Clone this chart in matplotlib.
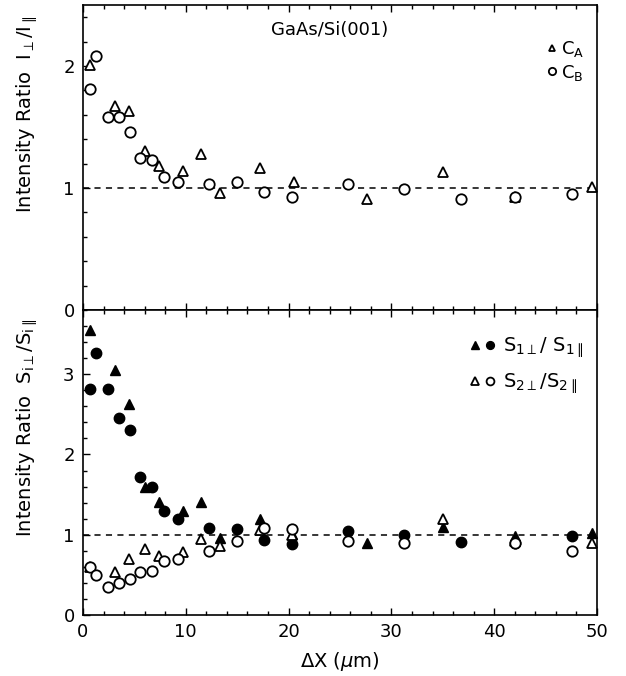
"""Intensity ratio vs. distance for GaAs/Si(001): two stacked panels."""

import matplotlib
matplotlib.use('Agg')
import matplotlib.pyplot as plt
from matplotlib.ticker import MultipleLocator
from matplotlib.legend_handler import HandlerTuple

plt.rcParams['font.family'] = ['DejaVu Sans']
plt.rcParams['mathtext.fontset'] = 'dejavusans'

# --- top panel: C_A (triangles), C_B (circles)
xA = [0.7, 3.1, 4.5, 6.0, 7.4, 9.7, 11.5, 13.3, 17.2, 20.5, 27.6, 35.0, 42.0, 49.5]
cA = [2.01, 1.67, 1.63, 1.30, 1.18, 1.14, 1.28, 0.96, 1.16, 1.05, 0.91, 1.13, 0.93, 1.01]
xB = [0.7, 1.26, 2.4, 3.5, 4.6, 5.55, 6.7, 7.9, 9.2, 12.3, 14.95, 17.6, 20.3,
      25.8, 31.2, 36.8, 42.0, 47.6]
cB = [1.81, 2.08, 1.58, 1.58, 1.46, 1.25, 1.23, 1.09, 1.05, 1.03, 1.05, 0.97, 0.93,
      1.03, 0.99, 0.91, 0.93, 0.95]

# --- bottom panel: S1 (filled), S2 (open)
xS1t = [0.7, 3.1, 4.5, 6.0, 7.4, 9.7, 11.5, 13.3, 17.2, 20.3, 27.6, 35.0, 42.0, 49.5]
s1t = [3.55, 3.05, 2.63, 1.59, 1.41, 1.29, 1.41, 0.96, 1.19, 1.01, 0.90, 1.10, 0.99, 1.02]
xS1c = [0.7, 1.26, 2.4, 3.5, 4.6, 5.55, 6.7, 7.9, 9.2, 12.3, 14.95, 17.6, 20.3,
        25.8, 31.2, 36.8, 42.0, 47.6]
s1c = [2.81, 3.26, 2.81, 2.45, 2.30, 1.72, 1.60, 1.30, 1.19, 1.08, 1.07, 0.93, 0.89,
       1.05, 1.00, 0.91, 0.90, 0.98]
xS2t = [0.7, 3.1, 4.5, 6.0, 7.4, 9.7, 11.5, 13.3, 17.2, 20.3, 35.0, 42.0, 49.5]
s2t = [0.60, 0.54, 0.70, 0.82, 0.74, 0.79, 0.95, 0.86, 1.06, 1.00, 1.19, 0.92, 0.90]
xS2c = [0.7, 1.26, 2.4, 3.5, 4.6, 5.55, 6.7, 7.9, 9.2, 12.3, 14.95, 17.6, 20.3,
        25.8, 31.2, 42.0, 47.6]
s2c = [0.60, 0.50, 0.35, 0.40, 0.45, 0.53, 0.55, 0.67, 0.70, 0.80, 0.92, 1.08, 1.07,
       0.92, 0.90, 0.90, 0.80]

W, H = 626, 676
fig = plt.figure(figsize=(W / 100, H / 100), dpi=100, facecolor='white')
left, right = 83 / W, 597 / W
ax1 = fig.add_axes([left, 1 - 310 / H, right - left, 305 / H])
ax2 = fig.add_axes([left, 1 - 615 / H, right - left, 305 / H])

open_kw = dict(ls='none', mfc='white', mec='black', mew=1.3)
fill_kw = dict(ls='none', mfc='black', mec='black', mew=1.0)

hA, = ax1.plot(xA, cA, marker='^', ms=7, zorder=3, **open_kw)
hB, = ax1.plot(xB, cB, marker='o', ms=7.5, zorder=3, **open_kw)

h1c, = ax2.plot(xS1c, s1c, marker='o', ms=7.5, zorder=3, **fill_kw)
h1t, = ax2.plot(xS1t, s1t, marker='^', ms=7, zorder=3, **fill_kw)
h2t, = ax2.plot(xS2t, s2t, marker='^', ms=7, zorder=4, **open_kw)
h2c, = ax2.plot(xS2c, s2c, marker='o', ms=7.5, zorder=4, **open_kw)

for ax, ymax in ((ax1, 2.5), (ax2, 3.8)):
    ax.axhline(1.0, color='black', lw=1.1, ls=(0, (4, 3.5)), zorder=1)
    ax.set_xlim(0, 50)
    ax.set_ylim(0, ymax)
    ax.xaxis.set_major_locator(MultipleLocator(10))
    ax.xaxis.set_minor_locator(MultipleLocator(2))
    ax.yaxis.set_major_locator(MultipleLocator(1))
    ax.yaxis.set_minor_locator(MultipleLocator(0.2))
    ax.tick_params(which='both', direction='in', top=True, right=False,
                   width=1.0, labelsize=13, pad=6)
    ax.tick_params(which='major', length=5)
    ax.tick_params(which='minor', length=3)
    for sp in ax.spines.values():
        sp.set_linewidth(1.2)

ax1.tick_params(labelbottom=False)
ax2.set_xlabel(r'$\Delta$X ($\mu$m)', fontsize=14, labelpad=6)

fig.text(27 / W, 1 - 114 / H,
         r'Intensity Ratio  $\mathregular{I_{\perp}/I_{\parallel}}$',
         rotation=90, ha='center', va='center', fontsize=14)
fig.text(27 / W, 1 - 428 / H,
         r'Intensity Ratio  $\mathregular{S_{i\perp}/S_{i\parallel}}$',
         rotation=90, ha='center', va='center', fontsize=14)

ax1.text(0.48, 0.918, 'GaAs/Si(001)', transform=ax1.transAxes,
         ha='center', va='center', fontsize=13)

ax1.legend([hA, hB], [r'$\mathregular{C_A}$', r'$\mathregular{C_B}$'],
           loc='upper right', bbox_to_anchor=(1.0, 0.93), frameon=False,
           fontsize=13, markerscale=0.7, handlelength=0.6, handletextpad=0.2,
           labelspacing=0.2, borderaxespad=0.3)

ax2.legend([(h1t, h1c), (h2t, h2c)],
           [r'$\mathregular{S_{1\perp}/\ S_{1\parallel}}$',
            r'$\mathregular{S_{2\perp}/S_{2\parallel}}$'],
           handler_map={tuple: HandlerTuple(ndivide=None, pad=0.1)},
           loc='upper right', bbox_to_anchor=(1.0, 0.96), frameon=False,
           fontsize=14, markerscale=0.75, handlelength=1.5, handletextpad=0.3,
           labelspacing=0.6, borderaxespad=0.3)

fig.savefig('out.png', dpi=100, facecolor='white')
